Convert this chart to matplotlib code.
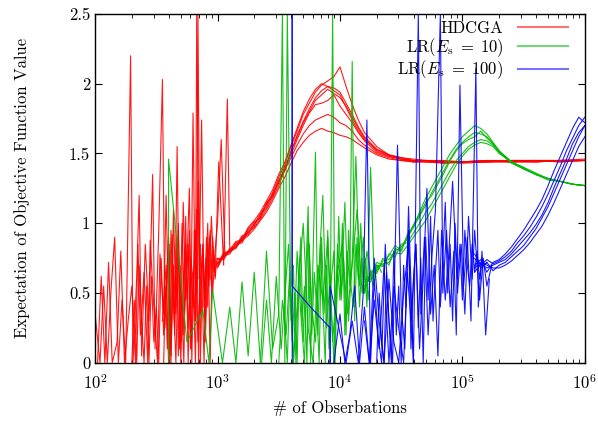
import numpy as np
import matplotlib
matplotlib.use("Agg")
import matplotlib.pyplot as plt
from matplotlib.lines import Line2D
from matplotlib.ticker import FormatStrFormatter

plt.rcParams["font.family"] = "serif"
plt.rcParams["font.serif"] = ["cmr10", "DejaVu Serif"]
plt.rcParams["mathtext.fontset"] = "cm"
plt.rcParams["axes.formatter.use_mathtext"] = True
plt.rcParams["axes.unicode_minus"] = False

# ── Data (x given as log10 of # observations) ──────────────────────────
# HDCGA: noisy start
red_noise_lx_a = [2.00, 2.04, 2.07, 2.10, 2.13, 2.16, 2.19, 2.22, 2.25, 2.29, 2.31, 2.34, 2.36, 2.38,
                  2.41, 2.44, 2.47, 2.49, 2.52, 2.55, 2.57, 2.60, 2.62, 2.64, 2.66, 2.68, 2.70, 2.72,
                  2.74, 2.76, 2.78, 2.80, 2.82, 2.83, 2.85, 2.87, 2.89, 2.91, 2.93, 2.95, 2.97, 3.00]
red_noise_y_a = [0.35, 0.0, 0.55, 0.0, 0.52, 0.90, 0.0, 0.45, 0.0, 2.20, 0.0, 0.62, 1.20, 0.05,
                 0.85, 0.30, 1.35, 0.10, 0.95, 2.03, 0.25, 0.80, 0.05, 1.10, 0.40, 0.95, 0.15, 1.15,
                 0.45, 0.85, 0.10, 1.79, 0.30, 2.50, 0.60, 1.74, 0.40, 0.90, 0.55, 1.05, 0.65, 0.72]
red_noise_lx_b = [2.02, 2.05, 2.08, 2.11, 2.14, 2.18, 2.21, 2.24, 2.27, 2.30, 2.33, 2.35, 2.37, 2.40,
                  2.43, 2.45, 2.48, 2.51, 2.53, 2.56, 2.58, 2.61, 2.63, 2.65, 2.67, 2.69, 2.71, 2.73,
                  2.75, 2.77, 2.79, 2.81, 2.83, 2.84, 2.86, 2.88, 2.90, 2.92, 2.94, 2.96, 2.98, 3.01,
                  3.05, 3.08, 3.10]
red_noise_y_b = [0.0, 0.62, 0.0, 0.72, 0.0, 0.15, 0.80, 0.0, 0.30, 0.55, 0.0, 0.85, 0.20, 0.65,
                 0.0, 0.88, 0.40, 0.0, 0.78, 0.35, 1.20, 0.0, 0.92, 0.20, 1.55, 0.10, 1.00, 0.35,
                 0.70, 1.25, 0.0, 0.95, 0.50, 2.50, 0.0, 0.85, 0.45, 1.00, 0.0, 0.90, 0.62, 1.44,
                 0.70, 1.89, 0.82]
red_noise_lx_c = [2.55, 2.58, 2.60, 2.62, 2.64, 2.66, 2.68, 2.70, 2.72, 2.74, 2.76, 2.78, 2.80,
                  2.82, 2.84, 2.86, 2.88, 2.90, 2.92, 2.94, 2.96, 2.98, 3.00, 3.03, 3.06]
red_noise_y_c = [0.30, 0.70, 0.0, 0.95, 0.45, 0.0, 0.80, 0.55, 0.20, 1.05, 0.0, 0.75, 0.60,
                 0.0, 1.30, 0.35, 0.85, 0.15, 0.70, 0.95, 0.50, 0.80, 1.00, 1.60, 0.78]
red_noise_lx_d = [2.56, 2.575, 2.59, 2.605, 2.62, 2.635, 2.65, 2.665, 2.68, 2.695, 2.71, 2.725,
                  2.74, 2.755, 2.77, 2.785, 2.80, 2.815, 2.83, 2.845, 2.86, 2.875, 2.89, 2.905,
                  2.92, 2.935, 2.95, 2.965, 2.98, 2.995]
red_noise_y_d = [0.0, 0.55, 0.10, 0.85, 0.0, 0.60, 0.25, 0.90, 0.05, 0.70, 0.35, 0.0,
                 0.80, 0.45, 0.95, 0.10, 0.65, 0.30, 1.10, 0.0, 0.85, 0.50, 0.0, 0.75,
                 0.40, 0.90, 0.55, 0.80, 0.60, 0.75]
red_noise_lx_e = [2.30, 2.32, 2.34, 2.36, 2.38, 2.40, 2.42, 2.44, 2.46, 2.48, 2.50, 2.52, 2.54,
                  2.56, 2.58, 2.60, 2.62, 2.64, 2.66, 2.68, 2.70, 2.72, 2.74, 2.76, 2.78, 2.80,
                  2.82, 2.84, 2.86, 2.88, 2.90, 2.92, 2.94]
red_noise_y_e = [0.0, 0.45, 0.0, 0.70, 0.30, 0.0, 0.55, 0.0, 0.62, 0.15, 0.40, 0.0, 0.75,
                 0.20, 0.55, 0.90, 0.10, 0.70, 0.35, 1.00, 0.0, 0.60, 0.85, 0.25, 0.70, 0.40,
                 0.95, 0.15, 0.60, 0.80, 0.30, 0.85, 0.60]

# HDCGA: smooth runs
red_lx = [3.00, 3.05, 3.10, 3.15, 3.20, 3.25, 3.30, 3.35, 3.40, 3.45, 3.50, 3.55, 3.60, 3.65,
          3.70, 3.75, 3.80, 3.85, 3.90, 3.95, 4.00, 4.05, 4.10, 4.15, 4.20, 4.30, 4.40, 4.50,
          4.60, 4.70, 4.85, 5.00, 5.20, 5.40, 5.60, 5.80, 6.00]
red_runs = [
    [0.70, 0.78, 0.79, 0.86, 0.87, 0.95, 0.99, 1.07, 1.13, 1.22, 1.33, 1.42, 1.55, 1.66, 1.78, 1.86,
     1.94, 1.99, 2.02, 2.05, 2.12, 1.98, 1.85, 1.74, 1.65, 1.55, 1.49, 1.47, 1.46, 1.45, 1.45, 1.44,
     1.45, 1.44, 1.45, 1.45, 1.46],
    [0.74, 0.75, 0.82, 0.83, 0.90, 0.92, 1.00, 1.04, 1.14, 1.19, 1.31, 1.38, 1.52, 1.62, 1.72, 1.80,
     1.88, 1.92, 1.96, 1.93, 1.90, 1.84, 1.76, 1.68, 1.61, 1.52, 1.48, 1.46, 1.44, 1.45, 1.43, 1.44,
     1.44, 1.45, 1.44, 1.45, 1.45],
    [0.68, 0.77, 0.78, 0.85, 0.86, 0.94, 0.97, 1.03, 1.10, 1.18, 1.27, 1.38, 1.47, 1.56, 1.64, 1.70,
     1.74, 1.76, 1.78, 1.76, 1.72, 1.70, 1.66, 1.60, 1.56, 1.50, 1.47, 1.45, 1.44, 1.44, 1.44, 1.43,
     1.44, 1.44, 1.45, 1.44, 1.45],
    [0.75, 0.74, 0.81, 0.84, 0.91, 0.93, 0.98, 1.06, 1.11, 1.21, 1.29, 1.41, 1.49, 1.60, 1.70, 1.79,
     1.85, 1.86, 1.88, 1.92, 1.84, 1.78, 1.72, 1.65, 1.59, 1.51, 1.48, 1.46, 1.45, 1.44, 1.44, 1.44,
     1.45, 1.44, 1.44, 1.45, 1.45],
    [0.71, 0.79, 0.80, 0.82, 0.89, 0.96, 1.01, 1.04, 1.15, 1.20, 1.30, 1.39, 1.51, 1.63, 1.73, 1.82,
     1.90, 1.95, 1.98, 1.97, 1.94, 1.86, 1.78, 1.69, 1.62, 1.53, 1.49, 1.46, 1.45, 1.45, 1.44, 1.44,
     1.44, 1.45, 1.45, 1.45, 1.45],
    [0.72, 0.76, 0.80, 0.83, 0.88, 0.91, 0.96, 1.02, 1.08, 1.16, 1.25, 1.33, 1.43, 1.52, 1.58, 1.63,
     1.66, 1.68, 1.66, 1.65, 1.63, 1.62, 1.60, 1.57, 1.54, 1.49, 1.46, 1.45, 1.44, 1.44, 1.43, 1.44,
     1.44, 1.44, 1.44, 1.45, 1.45],
    [0.69, 0.77, 0.81, 0.87, 0.88, 0.97, 1.02, 1.08, 1.16, 1.24, 1.35, 1.44, 1.56, 1.68, 1.80, 1.89,
     1.96, 2.00, 1.98, 1.95, 1.92, 1.83, 1.74, 1.66, 1.60, 1.53, 1.49, 1.47, 1.45, 1.45, 1.44, 1.44,
     1.45, 1.45, 1.45, 1.44, 1.45],
]

# LR(Es=10): noisy start
green_noise_lx_a = [2.60, 2.60, 2.75, 2.88, 2.93, 2.96, 3.04, 3.10, 3.15, 3.20, 3.25, 3.30, 3.35,
                    3.40, 3.45, 3.50, 3.53, 3.55, 3.57, 3.60, 3.62, 3.64, 3.66, 3.68, 3.70, 3.72,
                    3.74, 3.76, 3.78, 3.80, 3.82, 3.84, 3.86, 3.88, 3.90, 3.92, 3.94, 3.96, 3.98,
                    4.00, 4.02, 4.04, 4.06, 4.08, 4.10, 4.12, 4.14, 4.16, 4.18, 4.20, 4.22]
green_noise_y_a = [0.0, 1.46, 0.15, 0.38, 0.0, 0.52, 0.0, 0.40, 0.0, 0.58, 0.05, 0.65, 0.0,
                   0.80, 0.10, 0.35, 2.50, 0.0, 2.50, 0.30, 0.70, 0.0, 0.55, 0.90, 0.15, 0.60,
                   1.12, 0.0, 0.75, 1.51, 0.20, 0.85, 0.40, 0.0, 0.95, 0.30, 2.50, 0.0, 0.70,
                   0.45, 1.00, 0.20, 0.80, 0.55, 2.16, 0.30, 0.90, 0.40, 0.75, 0.50, 0.62]
green_noise_lx_b = [3.50, 3.53, 3.56, 3.59, 3.62, 3.65, 3.68, 3.71, 3.74, 3.77, 3.80, 3.83, 3.86,
                    3.89, 3.92, 3.95, 3.98, 4.01, 4.04, 4.07, 4.10, 4.13, 4.16, 4.19, 4.22, 4.25,
                    4.28, 4.31, 4.34]
green_noise_y_b = [0.0, 0.45, 0.20, 0.65, 0.0, 0.80, 0.35, 0.0, 0.95, 0.40, 0.15, 0.70, 1.20,
                   0.25, 0.60, 0.0, 0.85, 0.50, 1.15, 0.30, 0.75, 1.48, 0.55, 0.90, 0.40, 1.40,
                   0.60, 0.70, 0.65]
green_noise_lx_c = [3.55, 3.57, 3.59, 3.61, 3.63, 3.65, 3.67, 3.69, 3.71, 3.73, 3.75, 3.77, 3.79,
                    3.81, 3.83, 3.85, 3.87, 3.89, 3.91, 3.93, 3.95, 3.97, 3.99, 4.01, 4.03, 4.05,
                    4.07, 4.09, 4.11, 4.13, 4.15, 4.17, 4.19, 4.21, 4.23, 4.25, 4.27, 4.29]
green_noise_y_c = [0.30, 0.0, 0.60, 0.15, 0.50, 0.0, 0.75, 0.30, 0.55, 0.0, 0.85, 0.20, 0.65,
                   0.40, 0.0, 0.90, 0.35, 0.70, 0.10, 0.60, 0.80, 0.30, 1.05, 0.45, 0.75, 0.20,
                   0.95, 0.55, 0.40, 0.85, 0.60, 1.00, 0.50, 0.75, 0.45, 0.65, 0.55, 0.62]
green_noise_lx_d = [3.36, 3.40, 3.44, 3.48, 3.52, 3.58, 3.62, 3.66, 3.70, 3.74, 3.78, 3.82, 3.86,
                    3.90, 3.94, 3.98, 4.02, 4.06, 4.10, 4.14, 4.18, 4.22, 4.26, 4.30]
green_noise_y_d = [0.0, 0.45, 0.0, 0.62, 0.10, 0.85, 0.0, 0.55, 1.00, 0.25, 0.0, 0.70, 0.45,
                   0.90, 0.15, 0.65, 0.85, 0.35, 0.70, 1.10, 0.50, 0.80, 0.60, 0.70]

# LR(Es=10): smooth runs
green_lx = [4.20, 4.25, 4.30, 4.35, 4.40, 4.45, 4.50, 4.55, 4.60, 4.65, 4.70, 4.75, 4.80, 4.85,
            4.90, 4.95, 5.00, 5.05, 5.10, 5.15, 5.20, 5.25, 5.30, 5.35, 5.40, 5.50, 5.60, 5.70,
            5.80, 5.90, 6.00]
green_runs = [
    [0.50, 0.66, 0.64, 0.75, 0.70, 0.82, 0.80, 0.92, 0.98, 1.08, 1.18, 1.26, 1.34, 1.42, 1.50, 1.56,
     1.62, 1.66, 1.70, 1.68, 1.64, 1.58, 1.52, 1.48, 1.44, 1.39, 1.35, 1.32, 1.30, 1.28, 1.27],
    [0.58, 0.60, 0.70, 0.69, 0.78, 0.76, 0.85, 0.86, 0.93, 1.00, 1.08, 1.14, 1.22, 1.30, 1.38, 1.45,
     1.50, 1.55, 1.58, 1.60, 1.59, 1.56, 1.51, 1.47, 1.44, 1.39, 1.35, 1.32, 1.30, 1.28, 1.27],
    [0.52, 0.64, 0.66, 0.73, 0.74, 0.80, 0.83, 0.90, 0.97, 1.05, 1.13, 1.22, 1.30, 1.38, 1.46, 1.53,
     1.58, 1.62, 1.65, 1.64, 1.62, 1.57, 1.52, 1.47, 1.44, 1.40, 1.35, 1.32, 1.30, 1.28, 1.27],
    [0.60, 0.58, 0.68, 0.71, 0.72, 0.79, 0.78, 0.84, 0.90, 0.96, 1.02, 1.10, 1.18, 1.26, 1.34, 1.42,
     1.48, 1.53, 1.56, 1.58, 1.57, 1.55, 1.50, 1.47, 1.43, 1.39, 1.35, 1.31, 1.30, 1.28, 1.27],
    [0.55, 0.63, 0.72, 0.70, 0.77, 0.84, 0.81, 0.89, 0.99, 1.06, 1.15, 1.20, 1.28, 1.36, 1.45, 1.52,
     1.57, 1.60, 1.62, 1.66, 1.61, 1.57, 1.51, 1.48, 1.44, 1.40, 1.36, 1.32, 1.30, 1.28, 1.27],
]

# LR(Es=100): noisy start
blue_noise_lx_a = [3.61, 3.61, 3.61, 3.76, 3.92, 3.92, 3.92, 4.05, 4.10, 4.15, 4.19, 4.22, 4.25,
                   4.28, 4.31, 4.34, 4.37, 4.40, 4.43, 4.47, 4.50, 4.53, 4.56, 4.60, 4.64, 4.66,
                   4.69, 4.72, 4.75, 4.78, 4.82, 4.84, 4.87, 4.90, 4.93, 4.95, 4.98, 5.01, 5.04,
                   5.07, 5.11, 5.13, 5.16, 5.19, 5.22]
blue_noise_y_a = [0.0, 2.50, 0.55, 0.40, 0.25, 0.0, 0.55, 0.0, 0.30, 0.0, 0.50, 1.74, 0.0,
                  0.60, 0.20, 0.0, 0.85, 0.30, 0.0, 1.56, 0.40, 0.10, 1.12, 0.0, 2.50, 0.35,
                  0.90, 0.20, 0.75, 1.10, 2.50, 0.50, 0.95, 0.40, 0.80, 0.20, 1.99, 0.55, 0.90,
                  0.30, 2.11, 0.40, 0.80, 0.20, 0.60]
blue_noise_lx_b = [4.20, 4.24, 4.28, 4.32, 4.36, 4.40, 4.44, 4.48, 4.52, 4.55, 4.58, 4.62, 4.65,
                   4.68, 4.71, 4.74, 4.77, 4.80, 4.83, 4.86, 4.89, 4.92, 4.96, 4.99, 5.02, 5.05,
                   5.08, 5.10, 5.14, 5.17, 5.20, 5.24]
blue_noise_y_b = [0.30, 0.0, 0.45, 0.10, 0.70, 0.0, 0.55, 0.25, 0.0, 0.65, 0.30, 0.85, 0.10,
                  0.60, 1.25, 0.35, 0.70, 0.05, 0.95, 0.45, 0.80, 1.30, 0.50, 0.85, 0.35, 1.05,
                  0.60, 0.95, 0.45, 0.75, 0.55, 0.70]
blue_noise_lx_c = [4.30, 4.32, 4.34, 4.36, 4.38, 4.40, 4.42, 4.44, 4.46, 4.48, 4.50, 4.52, 4.54,
                   4.56, 4.58, 4.60, 4.62, 4.64, 4.66, 4.68, 4.70, 4.72, 4.74, 4.76, 4.78, 4.80,
                   4.82, 4.84, 4.86, 4.88, 4.90, 4.92, 4.94, 4.96, 4.98, 5.00, 5.02, 5.04, 5.06,
                   5.08, 5.10, 5.12, 5.14, 5.16, 5.18, 5.20]
blue_noise_y_c = [0.0, 0.50, 0.15, 0.0, 0.65, 0.30, 0.0, 0.80, 0.20, 0.55, 0.0, 0.70, 0.40,
                  0.95, 0.10, 0.60, 0.85, 0.25, 0.75, 0.0, 0.90, 0.45, 1.05, 0.30, 0.65, 0.95,
                  0.40, 0.75, 1.15, 0.50, 0.85, 0.30, 1.00, 0.60, 0.85, 0.45, 0.95, 0.70, 0.55,
                  0.85, 0.65, 0.80, 0.60, 0.75, 0.70, 0.72]
blue_noise_lx_d = [3.95, 4.00, 4.04, 4.08, 4.12, 4.16, 4.20, 4.24, 4.28, 4.32, 4.36, 4.40, 4.44,
                   4.48, 4.52, 4.56, 4.60]
blue_noise_y_d = [0.0, 0.35, 0.0, 0.20, 0.55, 0.0, 0.40, 0.0, 0.75, 0.30, 0.0, 0.60, 0.15,
                  0.0, 0.50, 0.85, 0.0]

# LR(Es=100): smooth runs
blue_lx = [5.10, 5.15, 5.20, 5.25, 5.30, 5.35, 5.40, 5.45, 5.50, 5.55, 5.60, 5.65, 5.70, 5.75,
           5.80, 5.85, 5.90, 5.95, 6.00]
blue_runs = [
    [0.75, 0.68, 0.72, 0.66, 0.70, 0.72, 0.76, 0.80, 0.84, 0.90, 0.96, 1.04, 1.12, 1.22, 1.32, 1.42,
     1.52, 1.62, 1.70],
    [0.70, 0.74, 0.65, 0.72, 0.74, 0.78, 0.83, 0.89, 0.95, 1.02, 1.09, 1.17, 1.27, 1.38, 1.48, 1.58,
     1.68, 1.76, 1.72],
    [0.68, 0.72, 0.70, 0.68, 0.68, 0.70, 0.73, 0.77, 0.81, 0.86, 0.92, 0.98, 1.06, 1.15, 1.25, 1.35,
     1.45, 1.55, 1.62],
    [0.78, 0.70, 0.74, 0.71, 0.73, 0.76, 0.80, 0.86, 0.91, 0.97, 1.04, 1.12, 1.21, 1.31, 1.41, 1.52,
     1.61, 1.70, 1.76],
    [0.65, 0.71, 0.68, 0.70, 0.72, 0.74, 0.78, 0.83, 0.88, 0.93, 0.99, 1.06, 1.15, 1.26, 1.36, 1.46,
     1.57, 1.65, 1.70],
]

labels = ["HDCGA", r"LR($E_{\mathrm{s}}\;=\;10$)", r"LR($E_{\mathrm{s}}\;=\;100$)"]
colors = ["#ff0000", "#00b800", "#0000ff"]

# ── Plot ──────────────────────────────────────────────────────────────
fig = plt.figure(figsize=(5.98, 4.21), dpi=100)
ax = fig.add_axes([0.159, 0.138, 0.819, 0.829])

groups = [
    ([(red_noise_lx_a, red_noise_y_a), (red_noise_lx_b, red_noise_y_b),
      (red_noise_lx_c, red_noise_y_c), (red_noise_lx_d, red_noise_y_d),
      (red_noise_lx_e, red_noise_y_e)], red_lx, red_runs),
    ([(green_noise_lx_a, green_noise_y_a), (green_noise_lx_b, green_noise_y_b),
      (green_noise_lx_c, green_noise_y_c), (green_noise_lx_d, green_noise_y_d)],
     green_lx, green_runs),
    ([(blue_noise_lx_a, blue_noise_y_a), (blue_noise_lx_b, blue_noise_y_b),
      (blue_noise_lx_c, blue_noise_y_c), (blue_noise_lx_d, blue_noise_y_d)],
     blue_lx, blue_runs),
]

for (noise, lx, runs), color in zip(groups, colors):
    for nlx, ny in noise:
        ax.plot(10 ** np.array(nlx), ny, color=color, lw=0.8, alpha=0.9)
    for run in runs:
        ax.plot(10 ** np.array(lx), run, color=color, lw=0.8, alpha=0.9)

ax.set_xscale("log")
ax.set_xlim(1e2, 1e6)
ax.set_ylim(0, 2.5)
ax.set_yticks([0, 0.5, 1, 1.5, 2, 2.5])
ax.yaxis.set_major_formatter(FormatStrFormatter("%g"))
ax.tick_params(which="both", direction="in", top=True, right=True, labelsize=12)
ax.tick_params(which="major", length=5)
ax.tick_params(which="minor", length=3)
ax.tick_params(axis="x", pad=7)
for s in ax.spines.values():
    s.set_linewidth(1.0)

ax.set_xlabel("# of Obserbations", fontsize=12, labelpad=6)
ax.set_ylabel("Expectation of Objective Function Value", fontsize=12, labelpad=28)

handles = [Line2D([], [], color=c, lw=1.5, alpha=0.55) for c in colors]
ax.legend(handles, labels, loc="upper right", markerfirst=False, frameon=False,
          fontsize=12, handlelength=3.0, labelspacing=0.0, borderaxespad=0.0,
          handletextpad=0.9, bbox_to_anchor=(0.98, 1.0))

plt.savefig("out.png", dpi=100)
plt.close()
